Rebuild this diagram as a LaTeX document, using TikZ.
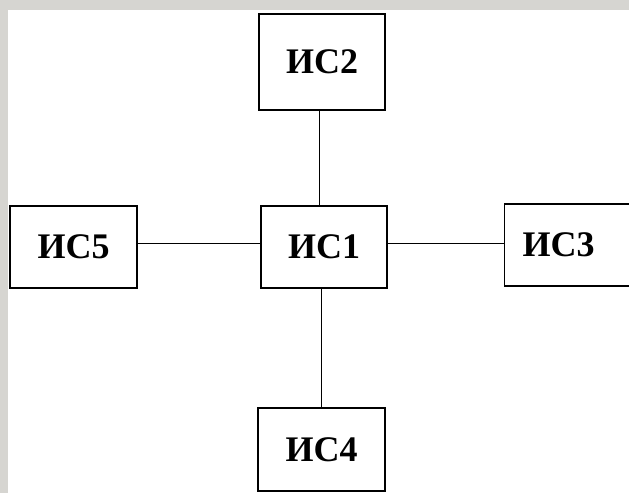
\documentclass[tikz,border=0pt]{standalone}
\usepackage{fontspec}
\setmainfont{Liberation Serif}
\definecolor{bggray}{RGB}{214,213,209}
\tikzset{
  sysbox/.style={draw=black, line width=1.3pt, fill=white, inner sep=0pt,
    font=\fontsize{36}{38}\selectfont\bfseries},
  link/.style={draw=black, line width=0.9pt}
}
\begin{document}
\begin{tikzpicture}[x=1pt,y=1pt]
\useasboundingbox (0,0) rectangle (629,493);
\clip (0,0) rectangle (629,493);
\fill[bggray] (0,0) rectangle (629,493);
\fill[white] (8,0) rectangle (629,483);
% boxes (pixel y flipped: Y = 493 - y)
\node[sysbox, minimum width=126, minimum height=96] (s2) at (322,431) {ИС2};
\node[sysbox, minimum width=126, minimum height=82] (s1) at (324,246) {ИС1};
\node[sysbox, minimum width=127, minimum height=82] (s5) at (73.5,246) {ИС5};
\node[sysbox, minimum width=127, minimum height=83] (s4) at (321.5,43.5) {ИС4};
\node[sysbox, minimum height=82, anchor=west, inner xsep=18pt, text width=120pt, align=left] (s3) at (504,248) {ИС3};
% connectors
\coordinate (vtop) at (319,0);
\coordinate (vbot) at (321,0);
\coordinate (hy) at (0,250);
\draw[link] (s2.south -| vtop) -- (s1.north -| vtop);
\draw[link] (s1.south -| vbot) -- (s4.north -| vbot);
\draw[link] (s5.east |- hy) -- (s1.west |- hy);
\draw[link] (s1.east |- hy) -- (s3.west |- hy);
\end{tikzpicture}
\end{document}
